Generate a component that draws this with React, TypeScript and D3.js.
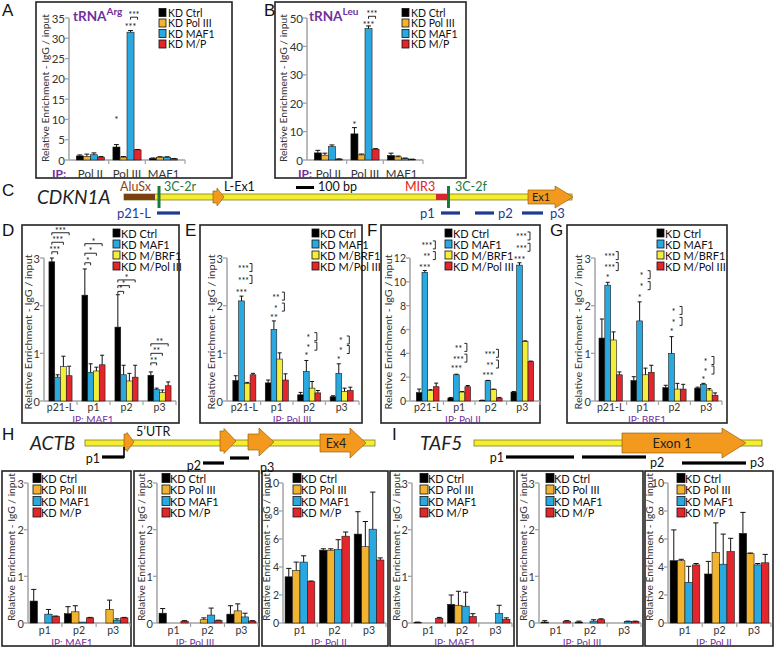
import React from 'react';
import * as d3 from 'd3';

const FONT = 'Lato, "Open Sans", sans-serif';
const PURPLE = '#7030a0';
const NAVY = '#1f3a93';
const GREEN = '#1b7a3e';
const ORANGE = '#f39a1e';
const YLAB = 'Relative Enrichment - IgG / input';

// ---------- data ----------
const SER_AB = ['KD Ctrl', 'KD Pol III', 'KD MAF1', 'KD M/P'];
const SER_DG = ['KD Ctrl', 'KD MAF1', 'KD M/BRF1', 'KD M/Pol III'];
const COL_AB = ['#000000', '#f2b430', '#2aa9e0', '#e3262b'];
const COL_DG = ['#000000', '#2aa9e0', '#f3ee3a', '#e3262b'];
const CATS_AB = ['Pol II', 'Pol III', 'MAF1'];
const CATS_DG = ['p21-L', 'p1', 'p2', 'p3'];
const CATS_HI = ['p1', 'p2', 'p3'];

const TICKS_A = [0, 5, 10, 15, 20, 25, 30, 35];
const TICKS_B = [0, 10, 20, 30, 40, 50];
const TICKS_3 = [0, 1, 2, 3];
const TICKS_12 = [0, 2, 4, 6, 8, 10, 12];
const TICKS_10 = [0, 2, 4, 6, 8, 10];

const A_VALS = [[1.0, 0.9, 1.3, 0.7], [3.2, 0.7, 31.5, 2.5], [0.4, 0.7, 0.7, 0.3]];
const A_ERRS = [[0.25, 0.55, 0.45, 0.15], [0.6, 0.15, 0.4, 0.1], [0.1, 0.1, 0.1, 0.05]];
const B_VALS = [[2.5, 1.7, 4.7, 0.3], [9.2, 1.8, 46.3, 3.8], [1.6, 1.1, 0.6, 0.25]];
const B_ERRS = [[0.9, 0.7, 0.6, 0.1], [2.2, 0.3, 0.9, 0.2], [0.8, 0.3, 0.1, 0.05]];

const D_VALS = [[2.92, 0.5, 0.72, 0.53], [2.22, 0.6, 0.63, 0.76], [1.55, 0.55, 0.42, 0.5], [0.54, 0.24, 0.18, 0.32]];
const D_ERRS = [[0.08, 0.05, 0.22, 0.2], [0.55, 0.18, 0.08, 0.2], [0.68, 0.2, 0.16, 0.25], [0.07, 0.03, 0.05, 0.08]];
const E_VALS = [[0.43, 2.1, 0.37, 0.55], [0.38, 1.5, 0.88, 0.44], [0.13, 0.62, 0.27, 0.17], [0.09, 0.58, 0.2, 0.22]];
const E_ERRS = [[0.1, 0.1, 0.02, 0.03], [0.06, 0.18, 0.13, 0.13], [0.05, 0.23, 0.14, 0.05], [0.02, 0.2, 0.07, 0.07]];
const F_VALS = [[0.7, 10.8, 0.9, 1.2], [0.25, 2.2, 0.75, 1.2], [0.05, 1.7, 0.95, 0.25], [0.75, 11.4, 5.0, 3.3]];
const F_ERRS = [[0.3, 0.15, 0.05, 0.3], [0.05, 0.05, 0.05, 0.1], [0.02, 0.03, 0.05, 0.05], [0.05, 0.2, 0.05, 0.05]];
const G_VALS = [[1.32, 2.43, 1.28, 0.55], [0.43, 1.68, 0.55, 0.6], [0.28, 1.0, 0.25, 0.25], [0.27, 0.35, 0.23, 0.12]];
const G_ERRS = [[0.4, 0.06, 0.17, 0.06], [0.08, 0.4, 0.14, 0.15], [0.05, 0.35, 0.12, 0.1], [0.02, 0.02, 0.03, 0.05]];

const H1_VALS = [[0.47, 0, 0.19, 0.14], [0.2, 0.24, 0.02, 0.11], [0, 0.29, 0.06, 0.11]];
const H1_ERRS = [[0.25, 0, 0.1, 0.01], [0.15, 0.13, 0, 0.01], [0, 0.2, 0.03, 0.01]];
const H2_VALS = [[0.21, 0, 0, 0.04], [0, 0.07, 0.17, 0.05], [0.19, 0.26, 0.13, 0.04]];
const H2_ERRS = [[0.1, 0, 0, 0.01], [0, 0.04, 0.15, 0.01], [0.18, 0.15, 0.08, 0.01]];
const H3_VALS = [[3.3, 3.75, 4.35, 2.95], [5.2, 5.2, 5.25, 6.2], [6.35, 5.45, 6.7, 4.5]];
const H3_ERRS = [[0.6, 0.6, 0.45, 0.05], [0.1, 0.1, 0.7, 0.3], [1.6, 1.8, 2.65, 0.15]];
const I1_VALS = [[0.01, 0, 0, 0.1], [0.4, 0.38, 0.36, 0.14], [0, 0, 0.2, 0.08]];
const I1_ERRS = [[0.01, 0, 0, 0.02], [0.2, 0.3, 0.3, 0.06], [0, 0, 0.18, 0.03]];
const I2_VALS = [[0.02, 0, 0, 0.04], [0.02, 0, 0.04, 0.07], [0, 0, 0.03, 0.03]];
const I2_ERRS = [[0.03, 0, 0, 0.01], [0.02, 0, 0.03, 0.02], [0, 0, 0.01, 0.01]];
const I3_VALS = [[4.45, 4.45, 2.9, 4.15], [3.5, 5.05, 4.2, 5.1], [6.4, 4.95, 4.15, 4.3]];
const I3_ERRS = [[2.2, 0.1, 1.15, 0.1], [0.9, 2.1, 2.15, 0.95], [1.5, 0.05, 0.1, 0.6]];

// significance annotations: [category, series, value, text]
const A_STARS = [['Pol III', 0, 10.3, '*'], ['Pol III', 2, 33.1, '***']];
const A_BRK = [['Pol III', 2, 3, 35.2, '***']];
const B_STARS = [['Pol III', 0, 13, '*'], ['Pol III', 2, 48.1, '***']];
const B_BRK = [['Pol III', 2, 3, 50.6, '***']];
const D_BRK = [
  ['p21-L', 0, 1, 3.13, '***'], ['p21-L', 0, 2, 3.33, '***'], ['p21-L', 0, 3, 3.53, '***'],
  ['p1', 0, 1, 2.9, '*'], ['p1', 0, 2, 3.1, '*'], ['p1', 0, 3, 3.3, '*'],
  ['p2', 0, 1, 2.3, '*'], ['p2', 0, 2, 2.42, '*'], ['p2', 0, 3, 2.54, '*'],
  ['p3', 0, 1, 0.8, '**'], ['p3', 0, 2, 1.0, '**'], ['p3', 0, 3, 1.2, '**'],
];
const E_STARS = [['p21-L', 1, 2.3, '***'], ['p1', 1, 1.77, '**'], ['p2', 1, 0.97, '*'], ['p3', 1, 0.9, '*']];
const E_VBR = [['p21-L', 2.55, '***'], ['p21-L', 2.8, '***'], ['p1', 1.97, '*'], ['p1', 2.2, '**'], ['p2', 1.15, '*'], ['p2', 1.35, '*'], ['p3', 1.08, '*'], ['p3', 1.28, '*']];
const F_STARS = [['p21-L', 1, 11.3, '***'], ['p1', 1, 2.8, '***'], ['p2', 1, 2.25, '***'], ['p3', 1, 12.0, '***']];
const F_VBR = [['p21-L', 12.2, '**'], ['p21-L', 13.1, '***'], ['p1', 3.6, '***'], ['p1', 4.5, '**'], ['p2', 3.1, '**'], ['p2', 4.0, '***'], ['p3', 12.9, '***'], ['p3', 13.85, '***']];
const G_STARS = [['p21-L', 1, 2.62, '*'], ['p1', 1, 2.2, '*'], ['p2', 1, 1.47, '*'], ['p3', 1, 0.47, '*']];
const G_VBR = [['p21-L', 2.82, '***'], ['p21-L', 3.05, '***'], ['p1', 2.42, '*'], ['p1', 2.65, '*'], ['p2', 1.67, '*'], ['p2', 1.9, '*'], ['p3', 0.65, '*'], ['p3', 0.85, '*']];

// ---------- helpers ----------
function arrowPath(x0: number, xn: number, x1: number, yc: number, hb: number, hh: number) {
  return `M${x0},${yc - hb}L${xn},${yc - hb}L${xn},${yc - hh}L${x1},${yc}L${xn},${yc + hh}L${xn},${yc + hb}L${x0},${yc + hb}Z`;
}

function BarPanel({ c }: { c: any }) {
  const y = d3.scaleLinear().domain([0, c.yMax]).range([c.y0, c.yTop]);
  const x = d3.scaleBand().domain(c.cats).range([c.axisX, c.axisEnd]).paddingInner(c.pad[0]).paddingOuter(c.pad[1]);
  const xs = d3.scaleBand().domain(d3.range(4).map(String)).range([0, x.bandwidth()]);
  const bw = xs.bandwidth();
  const cx = (cat: string, s: number) => (x(cat) as number) + (xs(String(s)) as number) + bw / 2;
  const [bx0, by0, bx1, by1] = c.box;
  const step = x.step();
  const bounds = c.cats.slice(0, -1).map((cat: string) => (x(cat) as number) + x.bandwidth() + (step - x.bandwidth()) / 2);
  return (
    <g fontFamily={FONT}>
      <rect x={bx0} y={by0} width={bx1 - bx0} height={by1 - by0} fill="none" stroke="#222" strokeWidth={1.6} />
      {/* y axis */}
      <line x1={c.axisX} x2={c.axisX} y1={c.y0} y2={c.yTop} stroke="#a3a3a3" strokeWidth={1.5} />
      {c.ticks.map((t: number) => (
        <g key={t}>
          <line x1={c.axisX - 4} x2={c.axisX} y1={y(t)} y2={y(t)} stroke="#a3a3a3" strokeWidth={1.3} />
          <text x={c.axisX - 4} y={y(t)} textAnchor="end" dominantBaseline="central" fontSize={c.tickFs} fill="#333">{t}</text>
        </g>
      ))}
      <line x1={c.axisX} x2={c.axisEnd} y1={c.y0} y2={c.y0} stroke="#a3a3a3" strokeWidth={1.5} />
      {bounds.map((b: number, i: number) => (
        <line key={i} x1={b} x2={b} y1={c.y0} y2={c.y0 + 4} stroke="#a3a3a3" strokeWidth={1.2} />
      ))}
      <line x1={c.axisEnd} x2={c.axisEnd} y1={c.y0} y2={c.y0 + 4} stroke="#a3a3a3" strokeWidth={1.2} />
      {/* bars */}
      {c.cats.map((cat: string, ci: number) => (
        <g key={cat}>
          {c.vals[ci].map((v: number, si: number) => {
            const e = c.errs[ci][si];
            const xc = cx(cat, si);
            return (
              <g key={si}>
                {v > 0 && (
                  <rect x={xc - bw / 2} y={y(v)} width={bw} height={c.y0 - y(v)} fill={c.colors[si]} stroke="#1a1a1a" strokeWidth={0.6} />
                )}
                {e > 0 && v > 0 && (
                  <g stroke="#111" strokeWidth={1}>
                    <line x1={xc} x2={xc} y1={y(v)} y2={y(v + e)} />
                    <line x1={xc - bw * 0.35} x2={xc + bw * 0.35} y1={y(v + e)} y2={y(v + e)} />
                  </g>
                )}
              </g>
            );
          })}
          <text x={(x(cat) as number) + x.bandwidth() / 2} y={c.catY} textAnchor="middle" dominantBaseline="central" fontSize={c.catFs} fill="#333">{cat}</text>
        </g>
      ))}
      {/* annotations */}
      {(c.stars || []).map((s: any, i: number) => (
        <text key={'s' + i} x={cx(s[0], s[1])} y={y(s[2]) + 4.5} textAnchor="middle" fontSize={9} fill="#111">{s[3]}</text>
      ))}
      {(c.brk || []).map((b: any, i: number) => {
        const x1 = cx(b[0], b[1]);
        const x2 = cx(b[0], b[2]);
        const yy = y(b[3]);
        return (
          <g key={'b' + i}>
            <path d={`M${x1},${yy + 2.5}V${yy}H${x2}V${yy + 2.5}`} fill="none" stroke="#111" strokeWidth={0.9} />
            <text x={(x1 + x2) / 2} y={yy + 1} textAnchor="middle" fontSize={8.5} fill="#111">{b[4]}</text>
          </g>
        );
      })}
      {(c.vbr || []).map((b: any, i: number) => {
        const xc = cx(b[0], 1) + 2;
        const yy = y(b[1]);
        return (
          <g key={'v' + i}>
            <text x={xc} y={yy + 4.5} textAnchor="middle" fontSize={8.5} fill="#111">{b[2]}</text>
            <path d={`M${xc + 6},${yy - 4}h2.5v8h-2.5`} fill="none" stroke="#111" strokeWidth={0.9} />
          </g>
        );
      })}
      {/* legend */}
      {c.series.map((s: string, i: number) => (
        <g key={s}>
          <rect x={c.leg.sx} y={c.leg.ys[i] - c.leg.sz / 2} width={c.leg.sz - 1} height={c.leg.sz} fill={c.colors[i]} stroke="#111" strokeWidth={0.8} />
          <text x={c.leg.tx} y={c.leg.ys[i]} dominantBaseline="central" fontSize={c.leg.fs} fill="#111">{s}</text>
        </g>
      ))}
      {/* y label */}
      <text transform={`translate(${c.ylab.x},${c.ylab.cy}) rotate(-90)`} textAnchor="middle" dominantBaseline="central"
        fontSize={c.ylab.fs} fill="#333" textLength={c.ylab.len} lengthAdjust="spacingAndGlyphs">{YLAB}</text>
      {/* IP label */}
      <text x={c.ipX} y={c.ipY} textAnchor={c.ipAnchor} dominantBaseline="central" fontSize={c.ipFs}
        fontWeight={c.ipBold ? 'bold' : 'normal'} fill={PURPLE}>{c.ip}</text>
      {c.title && (
        <text x={c.title.x} y={c.title.y} fontSize={13.5} fontWeight="bold" fill={PURPLE}>
          {c.title.main}
          <tspan fontSize={10} dy={-6}>{c.title.sup}</tspan>
        </text>
      )}
    </g>
  );
}

// ---------- layouts ----------
const legRow1 = { ys: [12.5, 23, 33.5, 44], sz: 8, fs: 10.5 };
const legRow2 = { ys: [233, 244, 255, 266], sz: 8, fs: 11 };
const legRow3 = { ys: [478, 489.5, 501, 512.5], sz: 9, fs: 11 };

const row1Common = { y0: 160, yTop: 18, pad: [0.23, 0.2], tickFs: 11.5, catY: 173.5, catFs: 11.5, ipY: 173.5, ipAnchor: 'end', ipBold: true, ipFs: 12, cats: CATS_AB, colors: COL_AB, series: SER_AB };
const row2Common = { y0: 401, yTop: 258, tickFs: 11, catY: 407, catFs: 10.5, ipY: 419, ipAnchor: 'middle', ipFs: 10, cats: CATS_DG, colors: COL_DG, series: SER_DG };
const row3Common = { y0: 623, yTop: 483, pad: [0.14, 0.06], tickFs: 11, catY: 629.5, catFs: 10.5, ipY: 641.5, ipAnchor: 'middle', ipFs: 10, cats: CATS_HI, colors: COL_AB, series: SER_AB };
const yl1 = { cy: 88, len: 148, fs: 10 };
const yl2 = { cy: 332, len: 155, fs: 10 };
const yl3 = { cy: 547, len: 148, fs: 10 };

const PANELS: any[] = [
  { ...row1Common, box: [36, 2, 232, 178], axisX: 69, axisEnd: 185, yMax: 35, ticks: TICKS_A, vals: A_VALS, errs: A_ERRS, ip: 'IP:', ipX: 66,
    leg: { ...legRow1, sx: 159, tx: 168 }, ylab: { ...yl1, x: 45 }, title: { x: 73, y: 21, main: 'tRNA', sup: 'Arg' }, stars: A_STARS, brk: A_BRK },
  { ...row1Common, box: [275, 2, 466, 178], axisX: 307, axisEnd: 423, yMax: 50, ticks: TICKS_B, vals: B_VALS, errs: B_ERRS, ip: 'IP:', ipX: 312,
    leg: { ...legRow1, sx: 402, tx: 411 }, ylab: { ...yl1, x: 283 }, title: { x: 309, y: 21, main: 'tRNA', sup: 'Leu' }, stars: B_STARS, brk: B_BRK },
  { ...row2Common, box: [22, 225, 179, 423], axisX: 44, axisEnd: 176, pad: [0.3, 0.15], yMax: 3, ticks: TICKS_3, vals: D_VALS, errs: D_ERRS, ip: 'IP: MAF1', ipX: 93,
    leg: { ...legRow2, sx: 113, tx: 121 }, ylab: { ...yl2, x: 28 }, brk: D_BRK },
  { ...row2Common, box: [200, 225, 362, 423], axisX: 227, axisEnd: 359, pad: [0.29, 0.18], yMax: 3, ticks: TICKS_3, vals: E_VALS, errs: E_ERRS, ip: 'IP: Pol III', ipX: 292,
    leg: { ...legRow2, sx: 312, tx: 320 }, ylab: { ...yl2, x: 211 }, stars: E_STARS, vbr: E_VBR },
  { ...row2Common, box: [381, 225, 540, 423], axisX: 410, axisEnd: 540, pad: [0.28, 0.2], tickFs: 10.5, yMax: 12, ticks: TICKS_12, vals: F_VALS, errs: F_ERRS, ip: 'IP: Pol II', ipX: 463,
    leg: { ...legRow2, sx: 445, tx: 453 }, ylab: { ...yl2, x: 388 }, stars: F_STARS, vbr: F_VBR },
  { ...row2Common, box: [567, 225, 727, 423], axisX: 595, axisEnd: 722, pad: [0.27, 0.125], yMax: 3, ticks: TICKS_3, vals: G_VALS, errs: G_ERRS, ip: 'IP: BRF1', ipX: 647,
    leg: { ...legRow2, sx: 657, tx: 665 }, ylab: { ...yl2, x: 578 }, stars: G_STARS, vbr: G_VBR },
  { ...row3Common, box: [2, 471, 131, 646], axisX: 28, axisEnd: 130, yMax: 3, ticks: TICKS_3, vals: H1_VALS, errs: H1_ERRS, ip: 'IP: MAF1', ipX: 72,
    leg: { ...legRow3, sx: 33, tx: 41 }, ylab: { ...yl3, x: 11 } },
  { ...row3Common, box: [134, 471, 259, 646], axisX: 157, axisEnd: 258, yMax: 3, ticks: TICKS_3, vals: H2_VALS, errs: H2_ERRS, ip: 'IP: Pol III', ipX: 195,
    leg: { ...legRow3, sx: 162, tx: 170 }, ylab: { ...yl3, x: 141 } },
  { ...row3Common, box: [262, 471, 388, 646], axisX: 283, axisEnd: 386, tickFs: 10.5, yMax: 10, ticks: TICKS_10, vals: H3_VALS, errs: H3_ERRS, ip: 'IP: Pol II', ipX: 329,
    leg: { ...legRow3, sx: 293, tx: 301 }, ylab: { ...yl3, x: 265.5 } },
  { ...row3Common, box: [390, 471, 514, 646], axisX: 412, axisEnd: 512, yMax: 3, ticks: TICKS_3, vals: I1_VALS, errs: I1_ERRS, ip: 'IP: MAF1', ipX: 455,
    leg: { ...legRow3, sx: 420, tx: 428 }, ylab: { ...yl3, x: 396 } },
  { ...row3Common, box: [517, 471, 643, 646], axisX: 539, axisEnd: 641, yMax: 3, ticks: TICKS_3, vals: I2_VALS, errs: I2_ERRS, ip: 'IP: Pol III', ipX: 582,
    leg: { ...legRow3, sx: 546, tx: 554 }, ylab: { ...yl3, x: 523 } },
  { ...row3Common, box: [645, 471, 773, 646], axisX: 668, axisEnd: 771, tickFs: 10.5, yMax: 10, ticks: TICKS_10, vals: I3_VALS, errs: I3_ERRS, ip: 'IP: Pol II', ipX: 714,
    leg: { ...legRow3, sx: 677, tx: 685 }, ylab: { ...yl3, x: 649 } },
];

const LETTERS: [string, number, number][] = [
  ['A', 2, 16], ['B', 264, 16], ['C', 2, 196], ['D', 2, 236], ['E', 185, 236], ['F', 367, 236], ['G', 550, 236], ['H', 2, 440], ['I', 392, 440],
];

function Gene({ x0, x1, yc }: { x0: number; x1: number; yc: number }) {
  return <rect x={x0} y={yc - 3} width={x1 - x0} height={6} fill="#f5ee2a" stroke="#7d7a2a" strokeWidth={0.8} />;
}

function Probe({ x0, x1, y, color }: { x0: number; x1: number; y: number; color: string }) {
  return <rect x={x0} y={y - 1.6} width={x1 - x0} height={3.2} fill={color} />;
}

function DiagramC() {
  const yc = 197;
  return (
    <g fontFamily={FONT}>
      <text x={37} y={204} fontSize={19} fontStyle="italic" fill="#222">CDKN1A</text>
      <Gene x0={124} x1={572} yc={yc} />
      <rect x={124} y={yc - 3} width={31} height={6} fill="#7b3f12" />
      <rect x={436} y={yc - 3} width={11} height={6} fill="#d7262e" />
      <rect x={157.5} y={186} width={3} height={22} fill={GREEN} />
      <rect x={447} y={186} width={3} height={22} fill={GREEN} />
      <path d={arrowPath(213, 217, 224, yc, 6, 9)} fill={ORANGE} stroke="#8a5200" strokeWidth={0.6} />
      <path d={arrowPath(528, 555, 573, yc, 7, 11)} fill={ORANGE} stroke="#8a5200" strokeWidth={0.6} />
      <text x={541} y={yc + 4} textAnchor="middle" fontSize={11} fill="#222">Ex1</text>
      <text x={120} y={191} fontSize={12.5} fill="#8b4513">AluSx</text>
      <text x={164} y={191} fontSize={12.5} fill={GREEN}>3C-2r</text>
      <text x={224} y={191} fontSize={12.5} fill="#111">L-Ex1</text>
      <rect x={296} y={186} width={18} height={3} fill="#000" />
      <text x={318} y={191} fontSize={12.5} fill="#111">100 bp</text>
      <text x={405} y={191} fontSize={12.5} fill="#e2231a">MIR3</text>
      <text x={455} y={191} fontSize={12.5} fill={GREEN}>3C-2f</text>
      <text x={117} y={218} fontSize={13} fill={NAVY}>p21-L</text>
      <Probe x0={157} x1={180} y={213} color={NAVY} />
      <text x={420} y={218} fontSize={13} fill={NAVY}>p1</text>
      <Probe x0={441} x1={460} y={213} color={NAVY} />
      <Probe x0={475} x1={494} y={213} color={NAVY} />
      <text x={498} y={218} fontSize={13} fill={NAVY}>p2</text>
      <Probe x0={522} x1={543} y={213} color={NAVY} />
      <text x={550} y={218} fontSize={13} fill={NAVY}>p3</text>
    </g>
  );
}

function DiagramH() {
  const yc = 443;
  return (
    <g fontFamily={FONT}>
      <text x={30} y={450} fontSize={19} fontStyle="italic" fill="#222">ACTB</text>
      <Gene x0={85} x1={375} yc={yc} />
      <path d={arrowPath(124, 127, 134, yc - 1, 8, 9.5)} fill={ORANGE} stroke="#8a5200" strokeWidth={0.6} />
      <path d={arrowPath(220, 224, 236, yc - 2, 10, 12.5)} fill={ORANGE} stroke="#8a5200" strokeWidth={0.6} />
      <path d={arrowPath(248, 259, 274, yc - 1, 8, 14)} fill={ORANGE} stroke="#8a5200" strokeWidth={0.6} />
      <path d={arrowPath(320, 350, 366, yc, 9, 15)} fill={ORANGE} stroke="#8a5200" strokeWidth={0.6} />
      <text x={336} y={yc + 5} textAnchor="middle" fontSize={12.5} fill="#222">Ex4</text>
      <text x={136} y={436} fontSize={12.5} fill="#111">5’UTR</text>
      <line x1={124} x2={124} y1={447} y2={458} stroke="#000" strokeWidth={1.6} />
      <text x={100} y={463} textAnchor="end" fontSize={12.5} fill="#111">p1</text>
      <Probe x0={102} x1={124} y={457} color="#000" />
      <text x={201} y={470} textAnchor="end" fontSize={12.5} fill="#111">p2</text>
      <Probe x0={203} x1={224} y={463} color="#000" />
      <Probe x0={230} x1={249} y={458} color="#000" />
      <text x={260} y={472} fontSize={12.5} fill="#111">p3</text>
    </g>
  );
}

function DiagramI() {
  const yc = 443;
  return (
    <g fontFamily={FONT}>
      <text x={420} y={450} fontSize={19} fontStyle="italic" fill="#222">TAF5</text>
      <Gene x0={474} x1={762} yc={yc} />
      <path d={arrowPath(622, 722, 746, yc, 10, 15)} fill={ORANGE} stroke="#8a5200" strokeWidth={0.6} />
      <text x={672} y={yc + 5} textAnchor="middle" fontSize={13} fill="#222">Exon 1</text>
      <text x={504} y={462} textAnchor="end" fontSize={12.5} fill="#111">p1</text>
      <Probe x0={506} x1={574} y={457} color="#000" />
      <Probe x0={582} x1={646} y={457} color="#000" />
      <text x={650} y={467} fontSize={12.5} fill="#111">p2</text>
      <Probe x0={682} x1={746} y={463} color="#000" />
      <text x={750} y={467} fontSize={12.5} fill="#111">p3</text>
    </g>
  );
}

export default function App() {
  return (
    <svg width={774} height={648} style={{ position: 'absolute', left: 0, top: 0, background: '#fff' }}>
      <rect x={0} y={0} width={774} height={648} fill="#fff" />
      {PANELS.map((p, i) => <BarPanel key={i} c={p} />)}
      <DiagramC />
      <DiagramH />
      <DiagramI />
      {LETTERS.map(([t, x, y]) => (
        <text key={t} x={x} y={y} fontSize={17} fontFamily='"Liberation Sans", Arial, sans-serif' fill="#111">{t}</text>
      ))}
    </svg>
  );
}
